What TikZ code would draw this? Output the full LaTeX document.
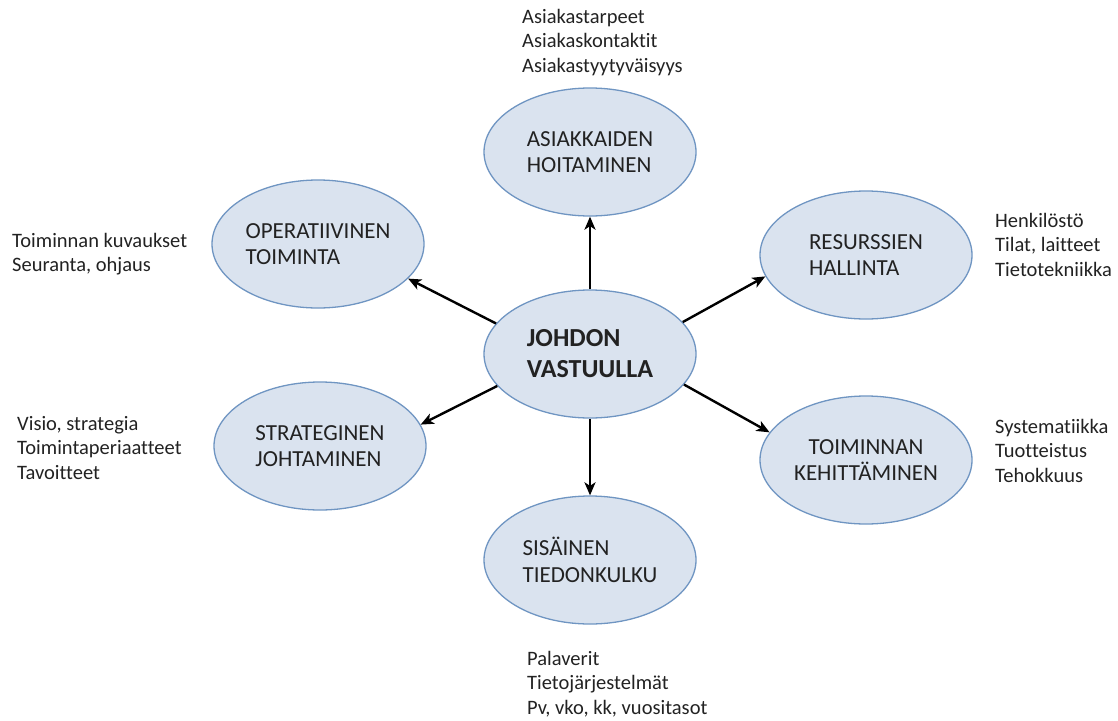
\documentclass[tikz,border=0pt]{standalone}
\usepackage{fontspec}
\setmainfont{Carlito}[Ligatures=NoCommon]
\usetikzlibrary{shapes.geometric,arrows.meta}
\definecolor{bubfill}{HTML}{DAE3EF}
\definecolor{bubline}{HTML}{6F95C2}
\definecolor{txt}{HTML}{222222}
\tikzset{
  bub/.style={ellipse, draw=bubline, fill=bubfill, line width=1.3pt,
    minimum width=212pt, minimum height=128pt, inner sep=0pt,
    font=\fontsize{23}{26.5}\selectfont, align=left, text=txt},
  note/.style={anchor=north west, align=left, inner sep=0pt,
    font=\fontsize{20.5}{24.5}\selectfont, text=txt},
  link/.style={line width=2.4pt, -{Stealth[length=13pt,width=11pt,inset=3.5pt]}}
}
\begin{document}
\begin{tikzpicture}[x=1pt,y=-1pt]
\useasboundingbox (0,0) rectangle (1118,720);

% bubbles
\node[bub, font=\bfseries\fontsize{26}{31}\selectfont] (c) at (590,354) {JOHDON\\VASTUULLA};
\node[bub] (asi) at (590,152) {ASIAKKAIDEN\\HOITAMINEN};
\node[bub] (ope) at (318,244) {OPERATIIVINEN\\TOIMINTA};
\node[bub] (res) at (866,255) {RESURSSIEN\\HALLINTA};
\node[bub] (str) at (320,446) {STRATEGINEN\\JOHTAMINEN};
\node[bub, align=center] (keh) at (866,460) {TOIMINNAN\\KEHITTÄMINEN};
\node[bub] (sis) at (590,560) {SISÄINEN\\TIEDONKULKU};

% arrows from the centre
\draw[link] (c.north) -- (asi.south);
\draw[link] (c.south) -- (sis.north);
\draw[link] (c.162) -- (ope.339);
\draw[link] (c.19) -- (res.192);
\draw[link] (c.199) -- (str.12);
\draw[link] (c.342) -- (keh.164);

% side notes
\node[note] (nasi) at (522,9) {Asiakastarpeet\\Asiakaskontaktit\\Asiakastyytyväisyys};
\node[note] (nope) at (12,233) {Toiminnan kuvaukset\\Seuranta, ohjaus};
\node[note] (nres) at (995,213) {Henkilöstö\\Tilat, laitteet\\Tietotekniikka};
\node[note] (nstr) at (17,416) {Visio, strategia\\Toimintaperiaatteet\\Tavoitteet};
\node[note] (nkeh) at (995,419) {Systematiikka\\Tuotteistus\\Tehokkuus};
\node[note] (nsis) at (527,651) {Palaverit\\Tietojärjestelmät\\Pv, vko, kk, vuositasot};
\end{tikzpicture}
\end{document}
